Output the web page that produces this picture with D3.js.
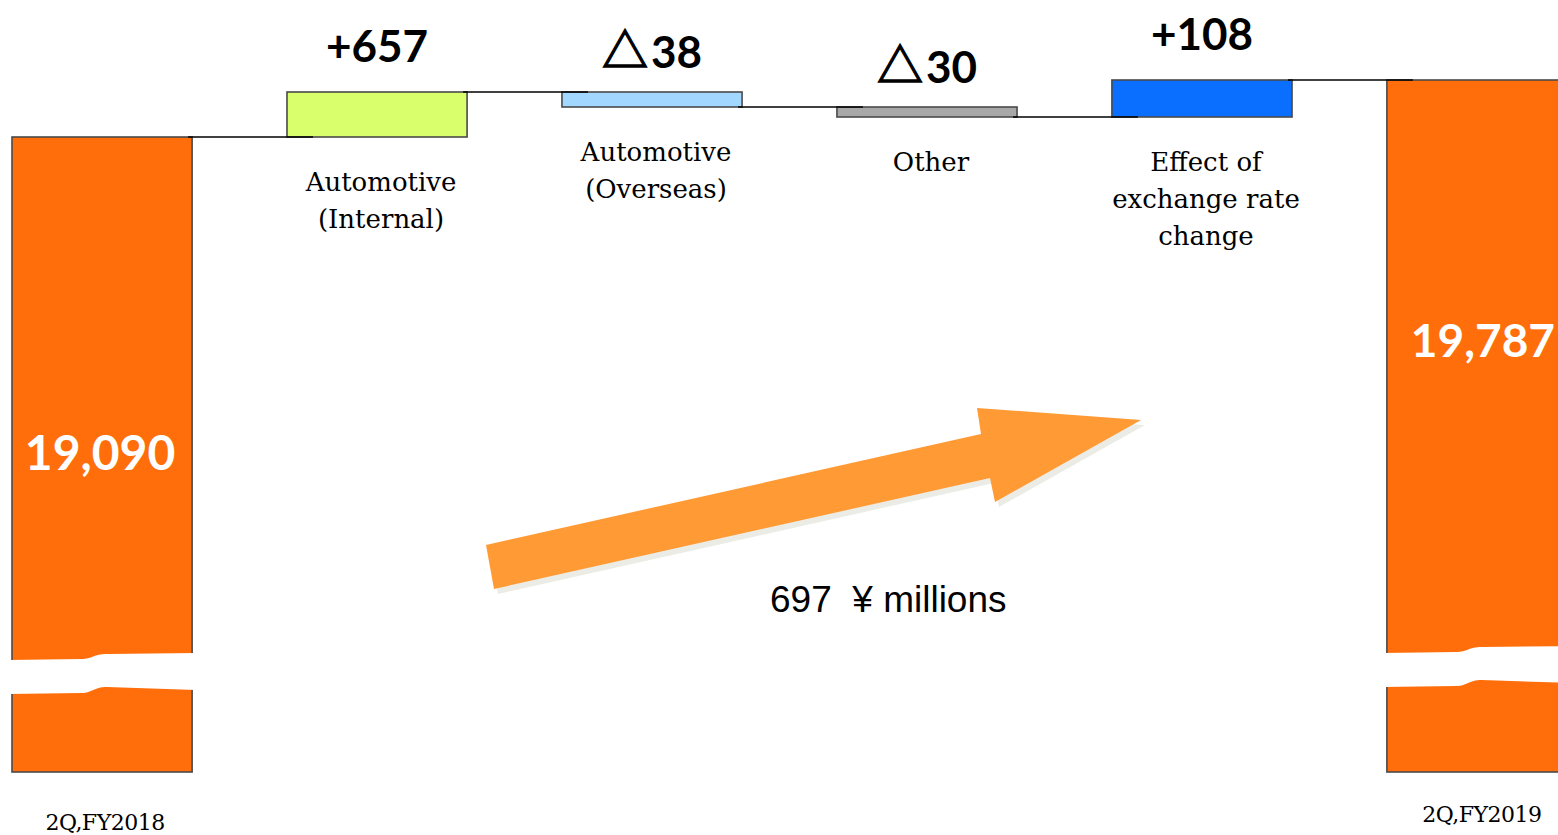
<!DOCTYPE html>
<html>
<head>
<meta charset="utf-8">
<script src="https://cdn.jsdelivr.net/npm/d3@7"></script>
<style>
  html, body { margin: 0; padding: 0; background: #fff; overflow: hidden; }
  svg { display: block; }
</style>
</head>
<body>
<svg id="chart" width="1558" height="835"></svg>
<script>
// ---------- DATA ----------
const categories = ["2Q,FY2018", "Automotive (Internal)", "Automotive (Overseas)", "Other", "Effect of exchange rate change", "2Q,FY2019"];
const categoryLines = [["2Q,FY2018"], ["Automotive", "(Internal)"], ["Automotive", "(Overseas)"], ["Other"], ["Effect of", "exchange rate", "change"], ["2Q,FY2019"]];
const kinds = ["total", "delta", "delta", "delta", "delta", "total"];
const values = [19090, 657, -38, -30, 108, 19787];
const valueLabels = ["19,090", "+657", "△38", "△30", "+108", "19,787"];
const totalChange = 697;
const unitLabel = "¥ millions";

// ---------- STYLE / LAYOUT ----------
const W = 1558, H = 835;
const barColors = ["#FF6E0A", "#DAFF6C", "#A2D8FF", "#A8A8A8", "#0A6EFF", "#FF6E0A"];
const arrowColor = "#FF9A35";
const baseY = 772;          // bottom of the (broken) total bars

// running levels
const starts = [], ends = [];
let run = 0;
values.forEach((v, i) => {
  if (kinds[i] === "total") { starts.push(0); ends.push(v); run = v; }
  else { starts.push(run); run += v; ends.push(run); }
});
const levels = Array.from(new Set(ends)).sort((a, b) => a - b);

const x = d3.scaleBand().domain(categories).range([12, 1567]).paddingInner(0.345).paddingOuter(0);
// value axis above the break (not drawn to scale in the original; piecewise linear)
const y = d3.scaleLinear().domain(levels).range([137, 117, 107, 92, 80]);

const svg = d3.select("#chart");

// ---------- ARROW (annotation) ----------
const arrowPts = [[486, 545], [981, 434], [977, 408], [1141, 420], [995, 502], [990, 478], [494, 589]];
const line = d3.line();
svg.append("path").attr("d", line(arrowPts.map(p => [p[0] + 4, p[1] + 5])) + "Z").attr("fill", "#ECECE6");
svg.append("path").attr("d", line(arrowPts) + "Z").attr("fill", arrowColor);

svg.append("text")
  .attr("x", 770).attr("y", 612)
  .attr("font-family", "'Liberation Sans', Arial, sans-serif")
  .attr("font-size", 37)
  .attr("fill", "#000")
  .attr("xml:space", "preserve")
  .text(totalChange + "  " + unitLabel);

// ---------- BARS ----------
const bars = svg.append("g");
categories.forEach((c, i) => {
  const x0 = x(c), bw = x.bandwidth();
  let top, bottom;
  if (kinds[i] === "total") { top = y(ends[i]); bottom = baseY; }
  else { top = Math.min(y(starts[i]), y(ends[i])); bottom = Math.max(y(starts[i]), y(ends[i])); }
  bars.append("rect")
    .attr("x", x0).attr("y", top)
    .attr("width", bw).attr("height", bottom - top)
    .attr("fill", barColors[i])
    .attr("stroke", "#4a4a4a").attr("stroke-width", 1.6);
});

// break marks on total bars
categories.forEach((c, i) => {
  if (kinds[i] !== "total") return;
  const x0 = x(c) - 4, x1 = x(c) + x.bandwidth() + 4, xm = x(c) + x.bandwidth() * 0.45;
  const top = i === 0 ? 660 : 653;
  const g = 33;
  const s = 6;
  const p = d3.path();
  p.moveTo(x0, top);
  p.lineTo(xm - 12, top - 1);
  p.bezierCurveTo(xm, top - 1, xm, top - s, xm + 14, top - s);
  p.lineTo(x1, top - s - 1);
  p.lineTo(x1, top - s + g + 3);
  p.lineTo(xm + 14, top - s + g);
  p.bezierCurveTo(xm, top - s + g, xm, top + g, xm - 12, top + g);
  p.lineTo(x0, top + g + 1);
  p.closePath();
  svg.append("path").attr("d", p.toString()).attr("fill", "#fff");
});

// ---------- CONNECTORS ----------
for (let i = 0; i < categories.length - 1; i++) {
  const yy = y(ends[i]);
  svg.append("line")
    .attr("x1", x(categories[i]) + x.bandwidth() - 4)
    .attr("x2", x(categories[i + 1]) + 26)
    .attr("y1", yy).attr("y2", yy)
    .attr("stroke", "#000").attr("stroke-width", 1.6);
}

// ---------- VALUE LABELS ----------
categories.forEach((c, i) => {
  const cx = x(c) + x.bandwidth() / 2;
  if (kinds[i] === "total") {
    svg.append("text")
      .attr("x", cx + (i === 0 ? -2 : 6))
      .attr("y", i === 0 ? 470 : 357)
      .attr("text-anchor", "middle")
      .attr("font-family", "Lato, 'Open Sans', sans-serif")
      .attr("font-weight", 700)
      .attr("font-size", i === 0 ? 48 : 46)
      .attr("fill", "#fff")
      .text(valueLabels[i]);
  } else {
    const top = Math.min(y(starts[i]), y(ends[i]));
    const t = svg.append("text")
      .attr("x", cx)
      .attr("y", top - (values[i] >= 0 ? 30 : 24))
      .attr("text-anchor", "middle")
      .attr("font-family", "Lato, 'Open Sans', sans-serif")
      .attr("font-weight", 700)
      .attr("font-size", 44)
      .attr("fill", "#000");
    const lbl = valueLabels[i];
    if (lbl.startsWith("△")) {
      t.append("tspan").attr("font-family", "'Noto Sans CJK JP', 'DejaVu Sans', sans-serif")
        .attr("font-size", 46).attr("font-weight", 700)
        .attr("stroke", "#000").attr("stroke-width", 1.3)
        .attr("dy", -1)
        .text("△");
      t.append("tspan").attr("dx", 3).attr("dy", 1).text(lbl.slice(1));
    } else {
      t.text(lbl);
    }
  }
});

// ---------- CATEGORY LABELS ----------
categories.forEach((c, i) => {
  const cx = x(c) + x.bandwidth() / 2;
  if (kinds[i] === "total") {
    svg.append("text")
      .attr("x", cx + (i === 0 ? 3 : 5))
      .attr("y", i === 0 ? 830 : 822)
      .attr("text-anchor", "middle")
      .attr("font-family", "'DejaVu Serif', serif")
      .attr("font-size", 22)
      .attr("letter-spacing", -0.5)
      .attr("fill", "#000")
      .text(categoryLines[i][0]);
  } else {
    const bottom = Math.max(y(starts[i]), y(ends[i]));
    const t = svg.append("text")
      .attr("text-anchor", "middle")
      .attr("font-family", "'DejaVu Serif', serif")
      .attr("font-size", 26)
      .attr("fill", "#000");
    categoryLines[i].forEach((ln, k) => {
      t.append("tspan").attr("x", cx + 4).attr("y", bottom + 54 + k * 37).text(ln);
    });
  }
});
</script>
</body>
</html>
